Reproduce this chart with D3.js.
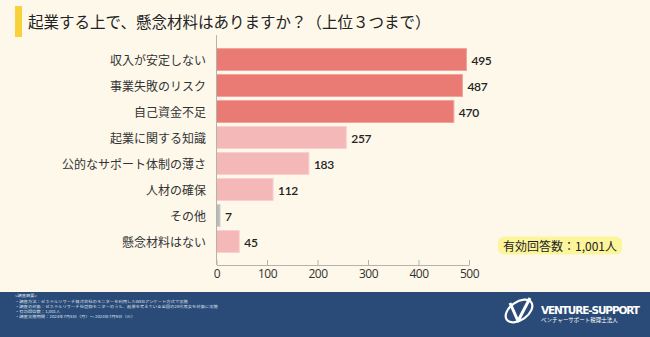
<!DOCTYPE html>
<html><head><meta charset="utf-8">
<script src="https://cdn.jsdelivr.net/npm/d3@7"></script>
<style>
html,body{margin:0;padding:0;background:#fdf8ea;}
svg{display:block;font-family:"Noto Sans CJK JP","Noto Sans",sans-serif;}
</style></head><body>
<svg id="c" width="650" height="337"></svg>
<script>
const title = "起業する上で、懸念材料はありますか？（上位３つまで）";
const categories = ["収入が安定しない","事業失敗のリスク","自己資金不足","起業に関する知識","公的なサポート体制の薄さ","人材の確保","その他","懸念材料はない"];
const values = [495,487,470,257,183,112,7,45];
const barGroup = ["top","top","top","mid","mid","mid","other","mid"];
const xTicks = [0,100,200,300,400,500];
const noteText = "有効回答数：1,001人";
const footerLines = [
  "<調査概要>",
  "・調査方法：ゼネラルリサーチ株式会社のモニターを利用したWEBアンケート方式で実施",
  "・調査の対象：ゼネラルリサーチ社登録モニターのうち、起業を考えている全国の20代男女を対象に実施",
  "・有効回答数：1,001人",
  "・調査実施期間：2024年7月8日（月）～ 2024年7月9日（火）"
];
const brandName = "VENTURE-SUPPORT";
const brandSub = "ベンチャーサポート税理士法人";

const fills = {top:"#e97b74", mid:"#f5b8b9", other:"#b9b9bd"};
const strokes = {top:"#f3a39b", mid:"#f9cfcf", other:"#d2d2d6"};

const svg = d3.select("#c");
svg.append("rect").attr("width",650).attr("height",337).attr("fill","#fdf8ea");

// title
svg.append("rect").attr("x",15).attr("y",6).attr("width",7).attr("height",31).attr("fill","#f7d23a");
svg.append("text").attr("x",28).attr("y",21).attr("dominant-baseline","central")
  .attr("font-size",15.5).attr("fill","#222").text(title);

const x = d3.scaleLinear().domain([0,500]).range([216.5,469]);
const y = d3.scaleBand().domain(categories).range([46.5,254.5]).paddingInner(3/26).paddingOuter(1.5/26);
const data = categories.map((c,i)=>({c, v:values[i], g:barGroup[i]}));

// bars
svg.append("g").selectAll("rect").data(data).join("rect")
  .attr("x",x(0)).attr("y",d=>y(d.c)+0.5)
  .attr("width",d=>x(d.v)-x(0)).attr("height",y.bandwidth()-1)
  .attr("fill",d=>fills[d.g]).attr("stroke",d=>strokes[d.g]).attr("stroke-width",1);

// category labels
svg.append("g").selectAll("text").data(data).join("text")
  .attr("x",206).attr("y",d=>y(d.c)+y.bandwidth()/2).attr("dominant-baseline","central")
  .attr("text-anchor","end").attr("font-size",12).attr("fill","#333").text(d=>d.c);

// value labels
svg.append("g").selectAll("text").data(data).join("text")
  .attr("x",d=>x(d.v)+5).attr("y",d=>y(d.c)+y.bandwidth()/2+1).attr("dominant-baseline","central")
  .attr("font-size",12).attr("font-weight",600).attr("fill","#222").attr("font-family","Lato, 'Noto Sans', sans-serif")
  .attr("letter-spacing",-0.3).text(d=>d.v);

// axes
const axisY = 265;
const xa = d3.axisBottom(x).tickValues(xTicks).tickSize(-5).tickPadding(4).tickSizeOuter(0);
const gx = svg.append("g").attr("transform",`translate(0,${axisY})`).call(xa);
gx.select(".domain").attr("stroke","#b5b2aa");
gx.selectAll(".tick line").attr("stroke","#b5b2aa");
gx.selectAll(".tick text").attr("font-size",12).attr("fill","#333").attr("font-family","'Open Sans','Noto Sans',sans-serif").attr("letter-spacing",-0.5);
svg.append("line").attr("x1",x(0)).attr("x2",x(0)).attr("y1",35).attr("y2",axisY).attr("stroke","#b5b2aa");

// note box
svg.append("rect").attr("x",498).attr("y",236.5).attr("width",124).attr("height",18).attr("rx",6).attr("fill","#fcf59c");
svg.append("text").attr("x",560).attr("y",245.5).attr("dominant-baseline","central").attr("text-anchor","middle")
  .attr("font-size",12).attr("fill","#222").text(noteText);

// footer
svg.append("rect").attr("x",0).attr("y",292).attr("width",650).attr("height",45).attr("fill","#2a4a77");
svg.append("g").attr("transform","translate(15,0) scale(1.2,1)")
  .selectAll("text").data(footerLines).join("text")
  .attr("x",0).attr("y",(d,i)=>295.5+i*5.2).attr("dominant-baseline","central")
  .attr("font-size",3.6).attr("fill","#dfe5ef").text(d=>d);

// logo
const lg = svg.append("g").attr("transform","translate(519,311)");
lg.append("ellipse").attr("cx",0).attr("cy",0).attr("rx",15).attr("ry",9)
  .attr("transform","rotate(-35)").attr("fill","none").attr("stroke","#fff").attr("stroke-width",2.2);
lg.append("path").attr("d","M-9,-8 L-1,10 L11,-13").attr("fill","none").attr("stroke","#fff").attr("stroke-width",3).attr("stroke-linejoin","round");
svg.append("text").attr("x",541).attr("y",310).attr("dominant-baseline","central")
  .attr("font-size",10.5).attr("font-weight",700).attr("fill","#fff").attr("font-family","'DejaVu Sans','Noto Sans',sans-serif")
  .attr("textLength",99).text(brandName);
svg.append("text").attr("x",541).attr("y",319.5).attr("dominant-baseline","central")
  .attr("font-size",5.5).attr("fill","#fff").text(brandSub);
</script></body></html>
